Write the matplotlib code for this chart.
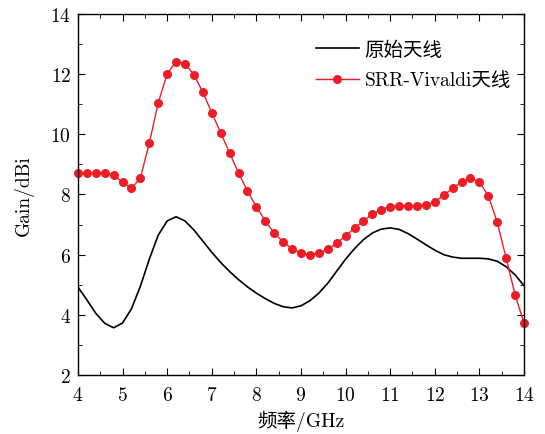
import matplotlib
matplotlib.use('Agg')
import matplotlib.pyplot as plt
from matplotlib.ticker import MultipleLocator

plt.rcParams['font.family'] = ['cmr10', 'Noto Sans CJK SC']
plt.rcParams['axes.formatter.use_mathtext'] = True

# frequency, GHz (0.2 GHz steps)
freq = [4.0 + 0.2 * i for i in range(51)]

# original antenna gain, dBi
gain_orig = [4.92, 4.50, 4.05, 3.72, 3.57, 3.73, 4.20, 4.95, 5.85, 6.65,
             7.12, 7.26, 7.12, 6.82, 6.45, 6.08, 5.74, 5.44, 5.17, 4.93,
             4.72, 4.54, 4.38, 4.27, 4.23, 4.30, 4.47, 4.72, 5.05, 5.45,
             5.85, 6.20, 6.50, 6.72, 6.85, 6.89, 6.84, 6.70, 6.52, 6.33,
             6.15, 6.00, 5.92, 5.88, 5.88, 5.88, 5.86, 5.78, 5.60, 5.33,
             4.97]

# SRR-Vivaldi antenna gain, dBi
gain_srr = [8.70, 8.70, 8.72, 8.72, 8.65, 8.40, 8.20, 8.55, 9.70, 11.05,
            12.00, 12.42, 12.35, 11.98, 11.40, 10.72, 10.05, 9.38, 8.72, 8.12,
            7.60, 7.12, 6.72, 6.42, 6.20, 6.05, 6.00, 6.05, 6.18, 6.38,
            6.62, 6.88, 7.12, 7.35, 7.50, 7.60, 7.63, 7.63, 7.62, 7.65,
            7.75, 7.98, 8.20, 8.42, 8.55, 8.42, 7.95, 7.08, 5.88, 4.67,
            3.72]

fig = plt.figure(figsize=(5.45, 4.35), dpi=100)
ax = fig.add_axes([0.143, 0.1356, 0.8185, 0.83])

ax.plot(freq, gain_orig, color='black', lw=1.2, label='原始天线')
ax.plot(freq, gain_srr, color='#ee1c25', lw=1.0, marker='o', ms=6.5,
        markeredgewidth=0, label='SRR-Vivaldi天线', clip_on=False)

ax.set_xlim(4, 14)
ax.set_ylim(2, 14)
ax.xaxis.set_major_locator(MultipleLocator(1))
ax.xaxis.set_minor_locator(MultipleLocator(0.5))
ax.yaxis.set_major_locator(MultipleLocator(2))
ax.yaxis.set_minor_locator(MultipleLocator(1))
ax.tick_params(which='both', direction='in', top=True, right=True, labelsize=14)
ax.tick_params(which='major', length=5)
ax.tick_params(which='minor', length=3)
ax.tick_params(axis='x', which='major', pad=8)
ax.tick_params(axis='y', which='major', pad=5)
for s in ax.spines.values():
    s.set_linewidth(1.0)

ax.set_xlabel('频率/GHz', fontsize=14, labelpad=4)
ax.set_ylabel('Gain/dBi', fontsize=14, labelpad=12)

ax.legend(loc='upper right', frameon=False, fontsize=14, handlelength=2.2,
          handletextpad=0.3, labelspacing=0.65, bbox_to_anchor=(1.01, 0.975))

fig.savefig('out.png', dpi=100)
